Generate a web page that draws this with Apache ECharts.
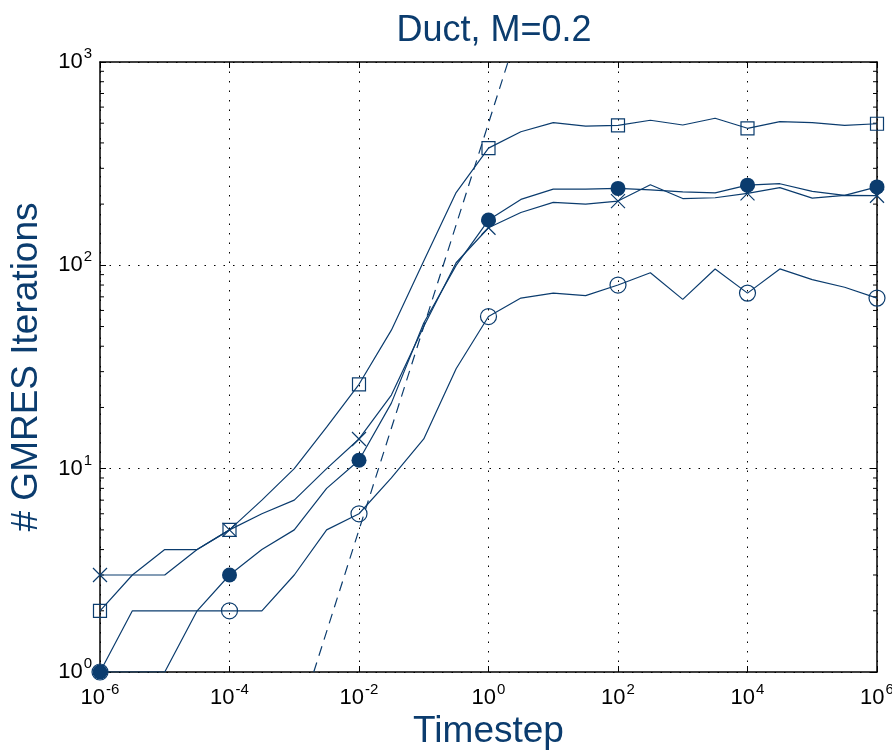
<!DOCTYPE html>
<html>
<head>
<meta charset="utf-8">
<script src="https://cdn.jsdelivr.net/npm/echarts@6/dist/echarts.min.js"></script>
<style>
  html, body { margin: 0; padding: 0; background: #fff; }
  #chart { width: 892px; height: 753px; }
</style>
</head>
<body>
<div id="chart"></div>
<script>
// timestep values (half decades 1e-6 .. 1e6)
var timesteps = [1e-6, 3.162e-6, 1e-5, 3.162e-5, 1e-4, 3.162e-4, 1e-3, 3.162e-3, 1e-2, 3.162e-2, 0.1, 0.3162,
	1, 3.162, 10, 31.62, 100, 316.2, 1000, 3162, 1e4, 31620, 1e5, 316200, 1e6];

// GMRES iterations, one list per curve
var squareIters = [2, 3, 4, 4, 5, 7, 10, 16, 26, 48, 105, 228, 377, 454, 503, 484, 488, 517, 490, 529, 472, 509, 503, 488, 497];
var crossIters = [3, 3, 3, 4, 5, 6, 7, 10, 14, 23, 50, 103, 153, 182, 204, 200, 207, 249, 213, 215, 226, 241, 214, 221, 220];
var dotIters = [1, 1, 1, 2, 3, 4, 5, 8, 11, 21, 52, 100, 167, 211, 237, 237, 239, 235, 230, 227, 248, 252, 231, 221, 243];
var circleIters = [1, 2, 2, 2, 2, 2, 3, 5, 6, 9, 14, 31, 56, 69, 73, 71, 80, 92, 68, 96, 73, 96, 85, 78, 69];

// reference slope line (dashed)
var refLine = [[0.002, 1], [2, 1000]];

// minor ticks on the y axis
var yMinorTicks = [2, 3, 4, 5, 6, 7, 8, 9, 20, 30, 40, 50, 60, 70, 80, 90, 200, 300, 400, 500, 600, 700, 800, 900];

var navy = '#0b3c6e';
var fontFam = '"Liberation Sans", Arial, Helvetica, sans-serif';

function pairs(xs, ys) {
	var out = [];
	for (var i = 0; i < xs.length; i++) {
		out.push([xs[i], ys[i]]);
	}
	return out;
}

// marker only every two decades
function markerEvery(sym) {
	return function(value, params) {
		return params.dataIndex % 4 === 0 ? sym : 'none';
	};
}

function powLabel(v) {
	var e = Math.round(Math.log10(v));
	return '{b|10}{s|' + e + '}';
}

var labelRich = {
	b: { fontSize: 22, color: '#000', fontFamily: fontFam },
	s: { fontSize: 15, color: '#000', fontFamily: fontFam, padding: [0, 0, 16, 1] }
};

function curve(name, data, sym, size, filled) {
	return {
		name: name,
		type: 'line',
		data: pairs(timesteps, data),
		symbol: markerEvery(sym),
		symbolSize: size,
		showAllSymbol: true,
		lineStyle: { color: navy, width: 1.2 },
		itemStyle: {
			color: filled ? navy : 'rgba(0,0,0,0)',
			borderColor: navy,
			borderWidth: filled ? 0 : 1.2
		},
		emphasis: { disabled: true },
		z: filled ? 4 : 3
	};
}

var myChart = echarts.init(document.getElementById('chart'));

var option = {
	animation: false,
	title: {
		text: 'Duct, M=0.2',
		left: 489,
		top: 8,
		textAlign: 'center',
		textStyle: { color: navy, fontSize: 36, fontWeight: 'normal', fontFamily: fontFam }
	},
	grid: { left: 100, right: 15, top: 62, bottom: 81, containLabel: false, outerBoundsMode: 'none' },
	xAxis: [{
		type: 'log',
		logBase: 10,
		min: 1e-6,
		max: 1e6,
		interval: 2,
		name: 'Timestep',
		nameLocation: 'middle',
		nameGap: 37,
		nameTextStyle: { color: navy, fontSize: 37, fontFamily: fontFam, verticalAlign: 'top' },
		axisLine: { lineStyle: { color: '#000', width: 1.5 } },
		axisTick: { inside: true, length: 6, lineStyle: { color: '#000' } },
		axisLabel: { formatter: powLabel, rich: labelRich, margin: 10 },
		splitLine: { show: true, lineStyle: { color: '#000', width: 1, type: [1.5, 8] } }
	}, {
		type: 'log',
		logBase: 10,
		min: 1e-6,
		max: 1e6,
		interval: 2,
		position: 'top',
		axisLine: { lineStyle: { color: '#000', width: 1.5 } },
		axisTick: { inside: true, length: 6, lineStyle: { color: '#000' } },
		axisLabel: { show: false },
		splitLine: { show: false }
	}],
	yAxis: [{
		type: 'log',
		logBase: 10,
		min: 1,
		max: 1000,
		interval: 1,
		name: '# GMRES Iterations',
		nameLocation: 'middle',
		nameGap: 55,
		nameMoveOverlap: false,
		nameTextStyle: { color: navy, fontSize: 37, fontFamily: fontFam },
		axisLine: { show: true, lineStyle: { color: '#000', width: 1.5 } },
		axisTick: { show: true, inside: true, length: 6, lineStyle: { color: '#000' } },
		axisLabel: { formatter: powLabel, rich: labelRich, margin: 8 },
		splitLine: { show: true, lineStyle: { color: '#000', width: 1, type: [1.5, 8] } }
	}, {
		type: 'log',
		logBase: 10,
		min: 1,
		max: 1000,
		interval: 1,
		position: 'right',
		axisLine: { show: true, lineStyle: { color: '#000', width: 1.5 } },
		axisTick: { show: true, inside: true, length: 6, lineStyle: { color: '#000' } },
		axisLabel: { show: false },
		splitLine: { show: false }
	}],
	series: [
		{
			name: 'minor ticks',
			type: 'custom',
			silent: true,
			data: yMinorTicks.map(function(v) { return [1e-6, v, 1e6]; }),
			renderItem: function(params, api) {
				var l = api.coord([api.value(0), api.value(1)]);
				var r = api.coord([api.value(2), api.value(1)]);
				return {
					type: 'group',
					children: [
						{ type: 'line', shape: { x1: l[0], y1: l[1], x2: l[0] + 4, y2: l[1] }, style: { stroke: '#000', lineWidth: 1 } },
						{ type: 'line', shape: { x1: r[0], y1: r[1], x2: r[0] - 4, y2: r[1] }, style: { stroke: '#000', lineWidth: 1 } }
					]
				};
			},
			z: 1
		},
		{
			name: 'slope',
			type: 'line',
			data: refLine,
			symbol: 'none',
			lineStyle: { color: navy, width: 1.2, type: [10, 7] },
			z: 2
		},
		curve('square', squareIters, 'rect', 13, false),
		curve('cross', crossIters, 'path://M0,0L10,10M10,0L0,10', 14, false),
		curve('circle', circleIters, 'circle', 16, false),
		curve('dot', dotIters, 'circle', 15, true)
	]
};

myChart.setOption(option);
</script>
</body>
</html>
